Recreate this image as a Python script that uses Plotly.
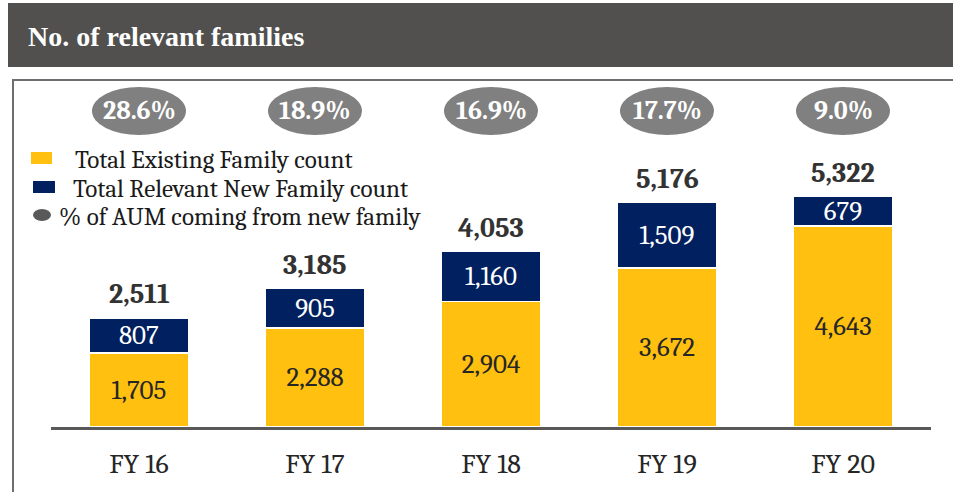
import plotly.graph_objects as go

# ---- data ----
years = ["FY 16", "FY 17", "FY 18", "FY 19", "FY 20"]
existing = [1705, 2288, 2904, 3672, 4643]
new_fam = [807, 905, 1160, 1509, 679]
totals = [2511, 3185, 4053, 5176, 5322]
aum_pct = ["28.6%", "18.9%", "16.9%", "17.7%", "9.0%"]
legend_names = ["Total Existing Family count",
                "Total Relevant New Family count",
                "% of AUM coming from new family"]

W, H = 953, 492
ML, MR, MT, MB = 51, 22, 80, 65
PW, PH = W - ML - MR, H - MT - MB

def px_x(x):
    return (x - ML) / PW

def px_y(y):
    return (H - MB - y) / PH

SERIF = "Cambria, 'Liberation Serif', serif"
YELLOW = "#FFC010"
NAVY = "#002060"
GRAY = "#808080"

fig = go.Figure()
fig.add_trace(go.Bar(
    x=years, y=existing, name=legend_names[0],
    marker=dict(color=YELLOW, line=dict(color="white", width=1.5)),
    text=[f"{v:,}" for v in existing], textposition="inside",
    insidetextanchor="middle", constraintext="none",
    textfont=dict(family=SERIF, size=27, color="#262626"),
))
fig.add_trace(go.Bar(
    x=years, y=new_fam, name=legend_names[1],
    marker=dict(color=NAVY, line=dict(color="white", width=1.5)),
    text=[f"{v:,}" for v in new_fam], textposition="inside",
    insidetextanchor="middle", constraintext="none",
    textfont=dict(family=SERIF, size=27, color="white"),
))

# totals above bars
for yr, t in zip(years, totals):
    fig.add_annotation(x=yr, y=t, text=f"<b>{t:,}</b>", showarrow=False,
                       yanchor="bottom", yshift=6,
                       font=dict(family=SERIF, size=28, color="#333333"))

shapes = []
# header band
shapes.append(dict(type="rect", xref="paper", yref="paper",
                   x0=px_x(8), x1=px_x(960), y0=px_y(67), y1=px_y(3),
                   fillcolor="#51504E", line=dict(width=0), layer="below"))
# outer box
shapes.append(dict(type="rect", xref="paper", yref="paper",
                   x0=px_x(13), x1=px_x(980), y0=px_y(500), y1=px_y(80),
                   fillcolor="rgba(0,0,0,0)", line=dict(color="#6E6E6E", width=2), layer="below"))
# ellipses for % AUM
for i, (yr, p) in enumerate(zip(years, aum_pct)):
    shapes.append(dict(type="circle", xref="x", yref="paper",
                       xsizemode="pixel", ysizemode="pixel",
                       xanchor=i, yanchor=px_y(111),
                       x0=-47, x1=47, y0=-24, y1=24,
                       fillcolor=GRAY, line=dict(width=0)))
    fig.add_annotation(x=yr, xref="x", yref="paper", y=px_y(111),
                       text=f"<b>{p}</b>", showarrow=False, yanchor="middle",
                       font=dict(family=SERIF, size=26, color="white"))

# legend (manual)
shapes.append(dict(type="rect", xref="paper", yref="paper",
                   x0=px_x(31), x1=px_x(52), y0=px_y(164), y1=px_y(152),
                   fillcolor=YELLOW, line=dict(width=0)))
shapes.append(dict(type="rect", xref="paper", yref="paper",
                   x0=px_x(33), x1=px_x(55), y0=px_y(193), y1=px_y(181),
                   fillcolor=NAVY, line=dict(width=0)))
shapes.append(dict(type="circle", xref="paper", yref="paper",
                   x0=px_x(33), x1=px_x(51), y0=px_y(221), y1=px_y(209),
                   fillcolor="#595959", line=dict(width=0)))
for name, lx, ly in zip(legend_names, [73, 71, 57], [159, 188, 216]):
    fig.add_annotation(xref="paper", yref="paper", x=px_x(lx), y=px_y(ly),
                       xanchor="left", yanchor="middle", showarrow=False,
                       text=name, font=dict(family=SERIF, size=25, color="#1a1a1a"))

fig.add_annotation(xref="paper", yref="paper", x=px_x(26), y=px_y(36),
                   xanchor="left", yanchor="middle", showarrow=False,
                   text="<b>No. of relevant families</b>",
                   font=dict(family="'Liberation Serif', serif", size=28, color="white"))

fig.update_layout(
    width=W, height=H,
    margin=dict(l=ML, r=MR, t=MT, b=MB),
    paper_bgcolor="white", plot_bgcolor="white",
    barmode="stack", bargap=0.43,
    shapes=shapes,
    showlegend=False,
)
fig.update_xaxes(showline=True, linecolor="#595959", linewidth=2.5,
                 showgrid=False, ticks="", ticklabelstandoff=10,
                 tickfont=dict(family=SERIF, size=28, color="#262626"),
                 fixedrange=True)
fig.update_yaxes(visible=False, range=[0, PH / 0.0433], fixedrange=True)

fig.write_html("out.html", config={"displayModeBar": False},
               post_script="document.body.style.margin='0';document.body.style.overflow='hidden';")
